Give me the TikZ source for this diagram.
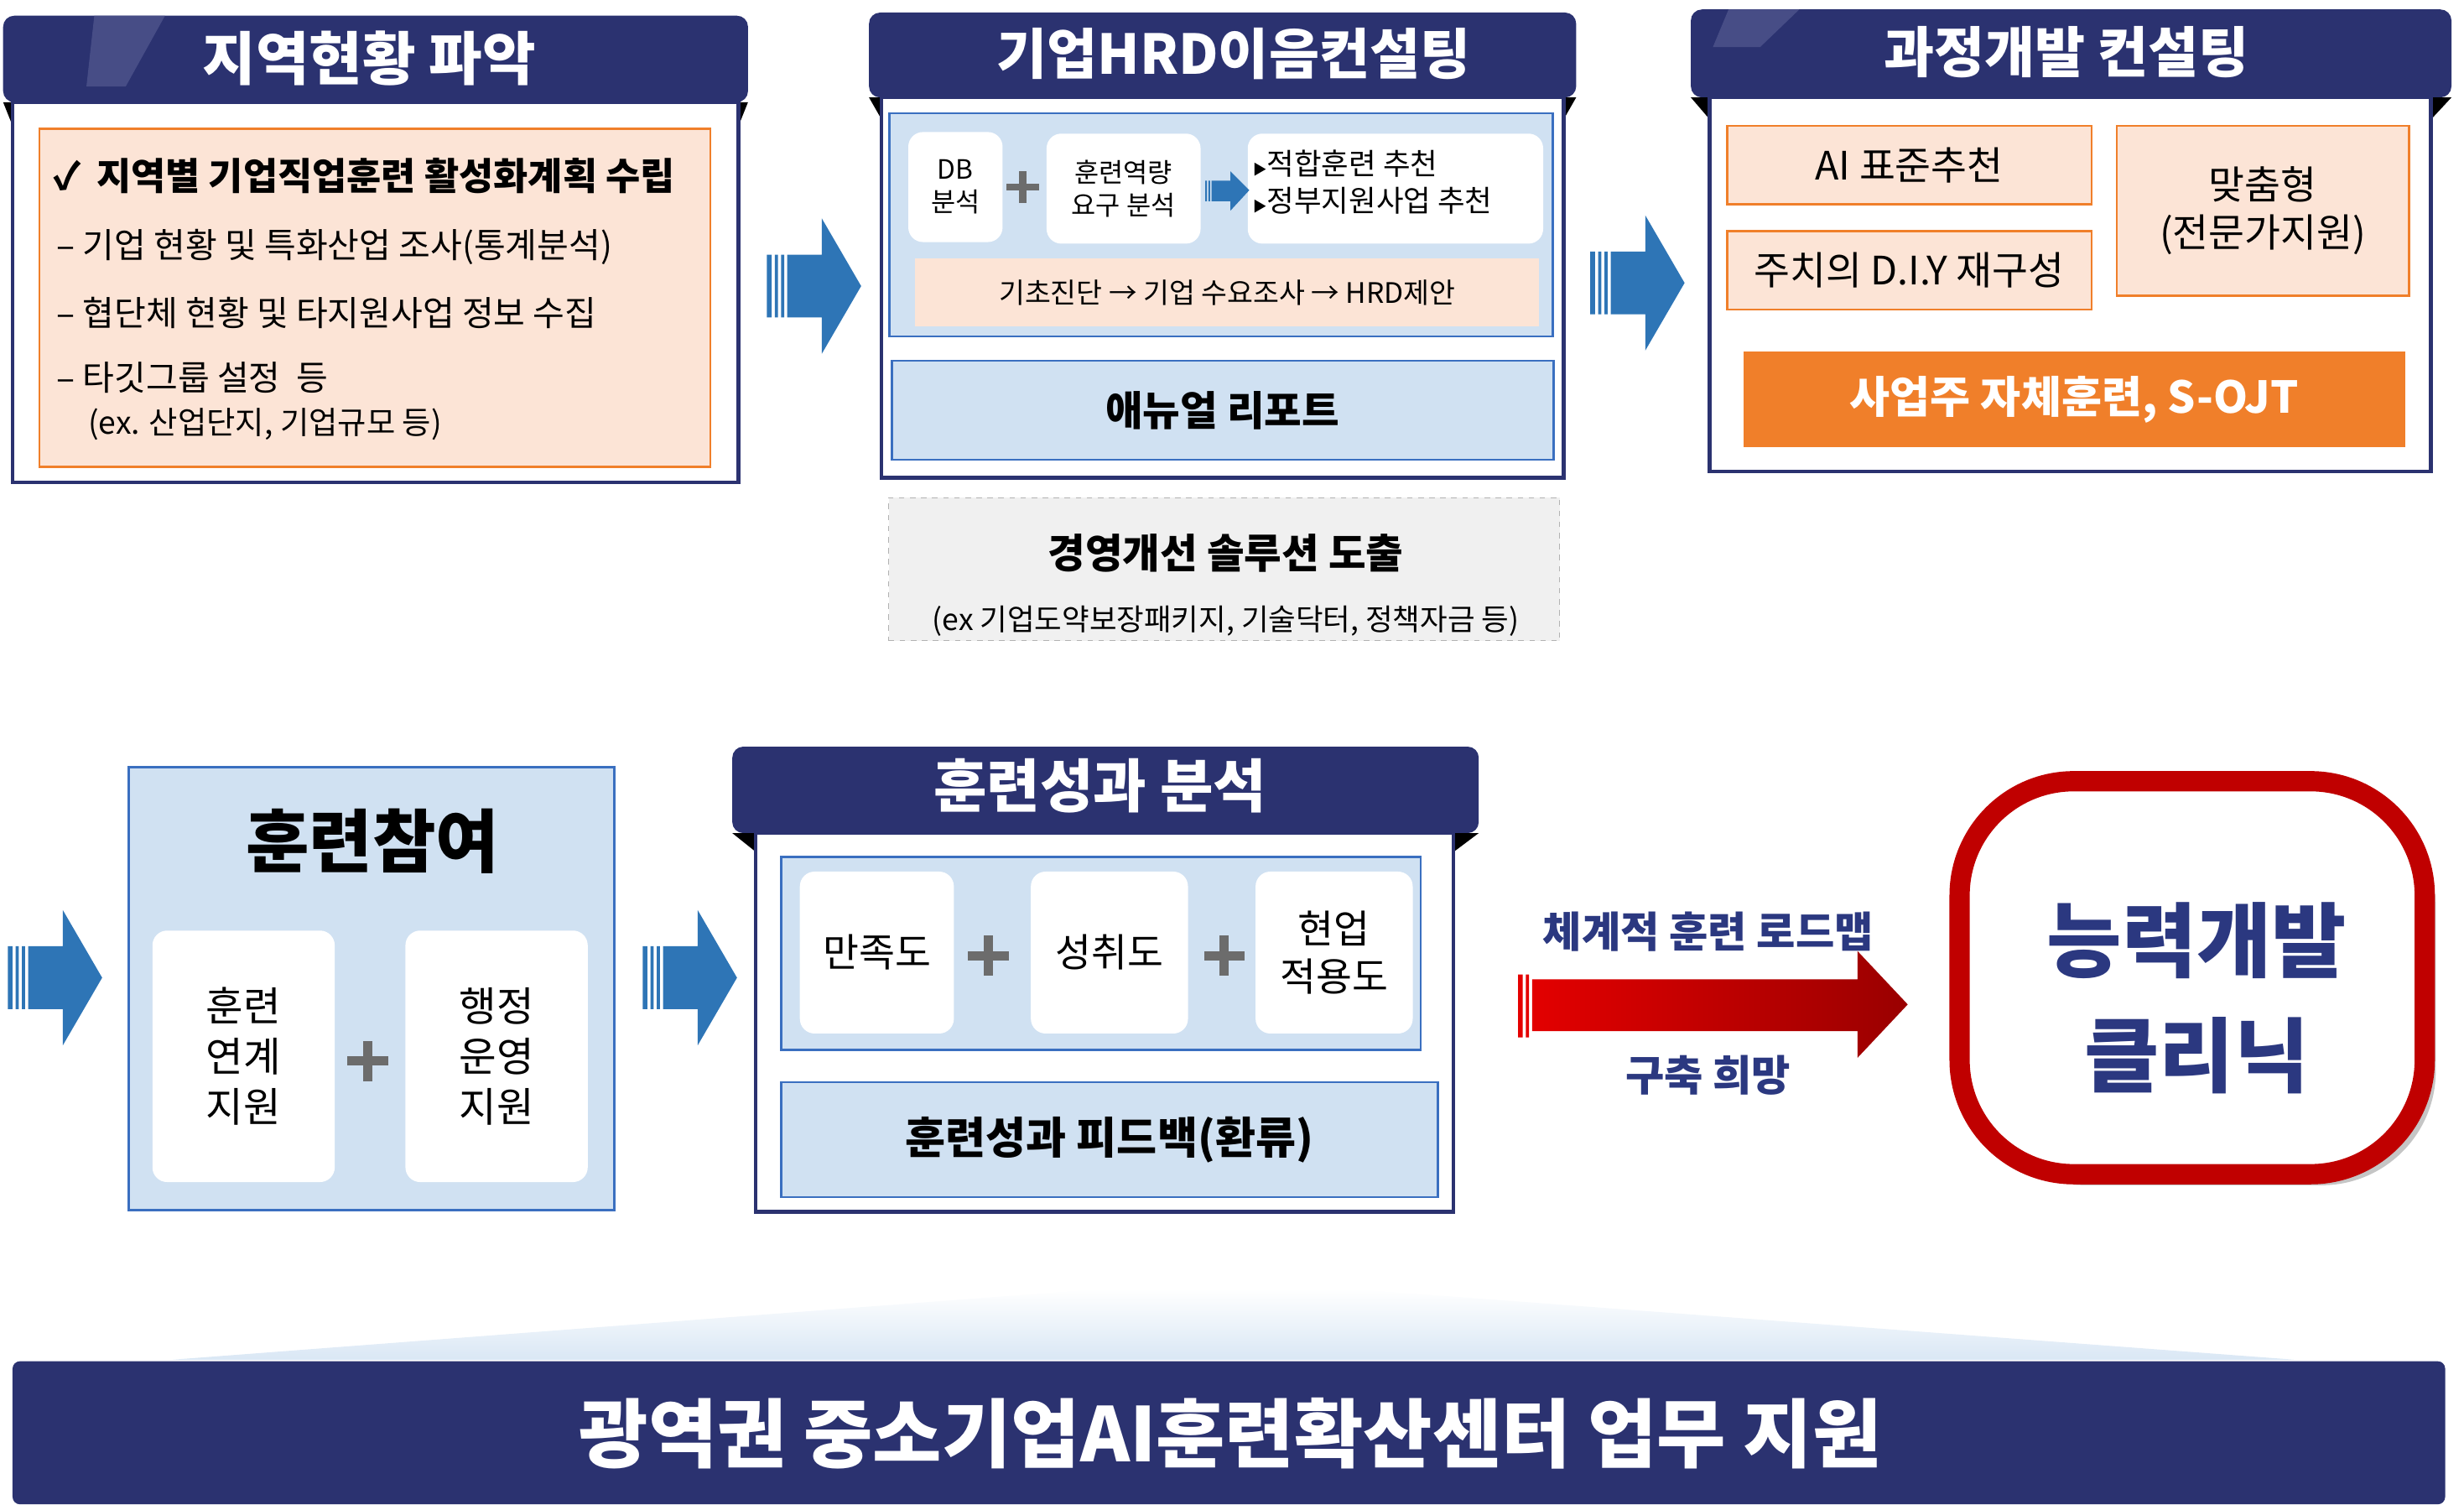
\documentclass[tikz,border=0pt]{standalone}
\usepackage{fontspec}
\setmainfont{Noto Sans CJK KR}
\usetikzlibrary{shadows}
\definecolor{navy}{HTML}{2B3270}
\definecolor{gloss}{HTML}{5A6096}
\definecolor{peach}{HTML}{FCE4D6}
\definecolor{orng}{HTML}{F07F2A}
\definecolor{lblue}{HTML}{D0E1F2}
\definecolor{bborder}{HTML}{3A6FC0}
\definecolor{arrblue}{HTML}{2E75B6}
\definecolor{tnavy}{HTML}{2B3880}
\definecolor{cred}{HTML}{C00000}
\newcommand\fsz[1]{\fontsize{\fpeval{#1*0.85}}{\fpeval{#1*1.05}}\selectfont}
\tikzset{
 hdr/.style={fill=navy,rounded corners=6pt},
 hdrtxt/.style={text=white},
 body/.style={draw=navy,line width=2pt,fill=white},
 pbox/.style={draw=orng,line width=1.2pt,fill=peach},
 bbox/.style={draw=bborder,line width=1.2pt,fill=lblue},
 wbox/.style={fill=white,rounded corners=8pt},
 plus/.style={minimum size=24pt,path picture={\fill[gray!85!black] ([xshift=-2.5pt]path picture bounding box.center) ++(0,-11pt) rectangle ++(5pt,22pt);\fill[gray!85!black] ([yshift=-2.5pt]path picture bounding box.center) ++(-11pt,0) rectangle ++(22pt,5pt);}},
 barrow/.pic={\fill[arrblue] (0,-20) rectangle (3,20) (5,-20) rectangle (7,20) (9,-20) rectangle (11,20)
   (13,-20) -- (35,-20) -- (35,-43) -- (60,0) -- (35,43) -- (35,20) -- (13,20) -- cycle;},
}
\begin{document}
\begin{tikzpicture}[x=0.03cm,y=-0.03cm]
\useasboundingbox (0,0) rectangle (1568,957);
% ---------- box 1
\fill[hdr] (2,65) -- (2,10) -- (476,10) -- (476,65) -- cycle;
\fill[gloss,opacity=0.6] (60,10) -- (105,10) -- (80,55) -- (55,55) -- cycle;
\fill[black] (2,65) -- (8,65) -- (8,80) -- cycle;  \fill[black] (476,65) -- (470,65) -- (470,80) -- cycle;
\node[hdrtxt,font=\fsz{37}\bfseries] (t1) at (235,37) {지역현황 파악};
\draw[body] (8,65) rectangle (470,307);
\draw[pbox] (25,82) rectangle (452,297);
\node[anchor=west,font=\fsz{24}\bfseries] (l1) at (30,112) {✓\, 지역별 기업직업훈련 활성화계획 수립};
\node[anchor=west,font=\fsz{22}] (l2) at (32,157) {– 기업 현황 및 특화산업 조사(통계분석)};
\node[anchor=west,font=\fsz{22}] (l3) at (32,199) {– 협단체 현황 및 타지원사업 정보 수집};
\node[anchor=west,font=\fsz{22}] (l4) at (32,240) {– 타깃그룹 설정\ \ 등};
\node[anchor=west,font=\fsz{20}] (l5) at (52,270) {(ex. 산업단지, 기업규모 등)};
% arrows top
\pic (a1) at (488,182) {barrow};
\pic (a2) at (1012,180) {barrow};
% ---------- box 2
\fill[hdr] (553,62) -- (553,8) -- (1003,8) -- (1003,62) -- cycle;
\fill[black] (553,62) -- (561,62) -- (561,76) -- cycle; \fill[black] (1003,62) -- (995,62) -- (995,76) -- cycle;
\node[hdrtxt,font=\fsz{35}\bfseries] (t2) at (785,34) {기업HRD이음컨설팅};
\draw[body] (561,62) rectangle (995,304);
\draw[bbox] (566,72) rectangle (988,214);
\node[wbox,minimum width=60*0.03cm,minimum height=70*0.03cm,align=center,font=\fsz{17},inner sep=0pt] (db) at (608,119) {DB\\분석};
\node[wbox,minimum width=98*0.03cm,minimum height=70*0.03cm,align=center,font=\fsz{17},inner sep=0pt] (hr) at (715,120) {훈련역량\\요구 분석};
\node[wbox,minimum width=188*0.03cm,minimum height=70*0.03cm,inner sep=0pt] (rec) at (888,120) {};
\node[anchor=west,align=left,font=\fsz{19},inner sep=0pt] (rect) at (797,116) {{\fsz{9}▶}적합훈련 추천\\{\fsz{9}▶}정부지원사업 추천};
\node[plus,scale=0.8] (p0) at (651,119) {};
\fill[arrblue] (767,115) rectangle (768,128) (769,115) rectangle (770,128) (771,115) rectangle (783,128) (783,109) -- (795,121) -- (783,134) -- cycle;
\node[fill=peach,minimum width=397*0.03cm,minimum height=43*0.03cm,font=\fsz{18},inner sep=0pt] (diag) at (781,186) {기초진단 → 기업 수요조사 → HRD제안};
\node[bbox,minimum width=421*0.03cm,minimum height=63*0.03cm,font=\fsz{26}\bfseries,inner sep=0pt] (rep) at (778,261) {애뉴얼 리포트};
\node[draw=gray!60,dashed,fill=gray!12,minimum width=427*0.03cm,minimum height=91*0.03cm,inner sep=0pt] (sol) at (779,362) {};
\node[font=\fsz{26}\bfseries] (solt) at (780,352) {경영개선 솔루션 도출};
\node[font=\fsz{19}] (sols) at (780,395) {(ex 기업도약보장패키지, 기술닥터, 정책자금 등)};
% ---------- box 3
\fill[hdr] (1076,62) -- (1076,6) -- (1560,6) -- (1560,62) -- cycle;
\fill[gloss,opacity=0.6] (1100,6) -- (1145,6) -- (1120,30) -- (1090,30) -- cycle;
\fill[black] (1076,62) -- (1088,62) -- (1088,76) -- cycle; \fill[black] (1560,62) -- (1547,62) -- (1547,76) -- cycle;
\node[hdrtxt,font=\fsz{35}\bfseries] (t3) at (1315,33) {과정개발 컨설팅};
\draw[body] (1088,62) rectangle (1547,300);
\node[pbox,minimum width=232*0.03cm,minimum height=50*0.03cm,font=\fsz{25},inner sep=0pt] (ai) at (1215,105) {AI 표준추천};
\node[pbox,minimum width=232*0.03cm,minimum height=50*0.03cm,font=\fsz{25},inner sep=0pt] (diy) at (1215,172) {주치의 D.I.Y 재구성};
\node[pbox,minimum width=186*0.03cm,minimum height=108*0.03cm,font=\fsz{25},align=center,inner sep=0pt] (cus) at (1440,134) {맞춤형\\(전문가지원)};
\node[fill=orng,minimum width=421*0.03cm,minimum height=61*0.03cm,text=white,font=\fsz{28}\bfseries,inner sep=0pt] (ojt) at (1320,254) {사업주 자체훈련, S-OJT};
% ---------- bottom row
\pic (a3) at (5,622) {barrow};
\pic (a4) at (409,622) {barrow};
\node[bbox,minimum width=309*0.03cm,minimum height=282*0.03cm,inner sep=0pt] (part) at (236.5,629) {};
\node[font=\fsz{44}\bfseries] (partt) at (237,535) {훈련참여};
\node[wbox,minimum width=116*0.03cm,minimum height=160*0.03cm,align=center,font=\fsz{26},inner sep=0pt] (c1) at (155,672) {훈련\\연계\\지원};
\node[wbox,minimum width=116*0.03cm,minimum height=160*0.03cm,align=center,font=\fsz{26},inner sep=0pt] (c2) at (316,672) {행정\\운영\\지원};
\node[plus] (p1) at (234,675) {};
% box 4
\fill[hdr] (466,530) -- (466,475) -- (941,475) -- (941,530) -- cycle;
\fill[black] (466,530) -- (481,530) -- (481,542) -- cycle; \fill[black] (941,530) -- (925,530) -- (925,542) -- cycle;
\node[hdrtxt,font=\fsz{37}\bfseries] (t4) at (700,500) {훈련성과 분석};
\draw[body] (481,530) rectangle (925,771);
\draw[bbox] (497,545) rectangle (904,668);
\node[wbox,minimum width=98*0.03cm,minimum height=103*0.03cm,font=\fsz{25},inner sep=0pt] (s1) at (558,606) {만족도};
\node[wbox,minimum width=100*0.03cm,minimum height=103*0.03cm,font=\fsz{25},inner sep=0pt] (s2) at (706,606) {성취도};
\node[wbox,minimum width=100*0.03cm,minimum height=103*0.03cm,font=\fsz{25},align=center,inner sep=0pt] (s3) at (849,606) {현업\\적용도};
\node[plus] (p2) at (629,608) {};
\node[plus] (p3) at (779,608) {};
\node[bbox,minimum width=418*0.03cm,minimum height=73*0.03cm,font=\fsz{28}\bfseries,inner sep=0pt] (fb) at (706,725) {훈련성과 피드백(환류)};
% red arrow
\shade[left color=red!90!black,right color=cred!80!black] (966,620) rectangle (969,660) (971,620) rectangle (973,660) (975,623) -- (1182,623) -- (1182,605) -- (1214,639) -- (1182,673) -- (1182,656) -- (975,656) -- cycle;
\node[text=tnavy,font=\fsz{27}\bfseries] (r1) at (1087,593) {체계적 훈련 로드맵};
\node[text=tnavy,font=\fsz{27}\bfseries] (r2) at (1087,684) {구축 희망};
% clinic
\node[draw=cred,line width=11pt,fill=white,rounded corners=62pt,minimum width=296*0.03cm,minimum height=250*0.03cm,drop shadow={shadow xshift=6pt,shadow yshift=-6pt,fill=black!45},inner sep=0pt] (cl) at (1395,622) {};
\node[text=tnavy,font=\fsz{52}\bfseries,align=center] (clt) at (1398,635) {능력개발\\[8pt]클리닉};
% bottom bar
\shade[top color=white,bottom color=lblue!80!white] (110,865) -- (700,820) -- (860,820) -- (1460,865) -- cycle;
\fill[navy,rounded corners=4pt] (8,957) -- (8,866) -- (1556,866) -- (1556,957) -- cycle;
\node[text=white,font=\fsz{48}\bfseries] (bt) at (783,912) {광역권 중소기업AI훈련확산센터 업무 지원};
\end{tikzpicture}
\end{document}
